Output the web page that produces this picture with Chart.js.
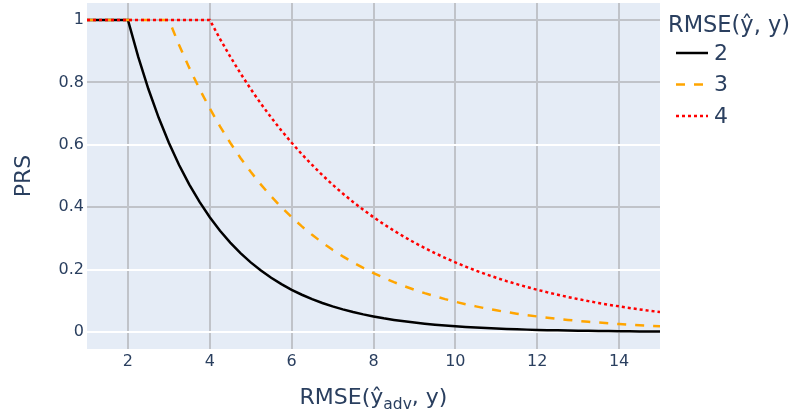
<!DOCTYPE html>
<html>
<head>
<meta charset="utf-8">
<script src="https://cdn.jsdelivr.net/npm/chart.js@4.4.1/dist/chart.umd.min.js"></script>
<style>
  html, body { margin: 0; padding: 0; background: #fff; }
  #wrap { width: 805px; height: 412px; position: relative; }
</style>
</head>
<body>
<div id="wrap"><canvas id="prsChart"></canvas></div>
<script>
// x values (RMSE of adversarial prediction)
const xValues = [1, 1.25, 1.5, 1.75, 2, 2.25, 2.5, 2.75, 3, 3.25, 3.5, 3.75, 4, 4.25, 4.5, 4.75,
  5, 5.25, 5.5, 5.75, 6, 6.25, 6.5, 6.75, 7, 7.25, 7.5, 7.75, 8, 8.25, 8.5, 8.75,
  9, 9.25, 9.5, 9.75, 10, 10.25, 10.5, 10.75, 11, 11.25, 11.5, 11.75, 12, 12.25, 12.5, 12.75,
  13, 13.25, 13.5, 13.75, 14, 14.25, 14.5, 14.75, 15];

// PRS per RMSE(ŷ, y) level
const prs2 = [1, 1, 1, 1, 1, 0.8825, 0.7788, 0.6873, 0.6065, 0.5353, 0.4724, 0.4169, 0.3679, 0.3247, 0.2865, 0.2528,
  0.2231, 0.1969, 0.1738, 0.1534, 0.1353, 0.1194, 0.1054, 0.0930, 0.0821, 0.0724, 0.0639, 0.0564, 0.0498, 0.0439, 0.0388, 0.0342,
  0.0302, 0.0266, 0.0235, 0.0207, 0.0183, 0.0161, 0.0143, 0.0126, 0.0111, 0.0098, 0.0087, 0.0076, 0.0067, 0.0059, 0.0052, 0.0046,
  0.0041, 0.0036, 0.0032, 0.0028, 0.0025, 0.0022, 0.0019, 0.0017, 0.0015];
const prs3 = [1, 1, 1, 1, 1, 1, 1, 1, 1, 0.9200, 0.8465, 0.7788, 0.7165, 0.6592, 0.6065, 0.5580,
  0.5134, 0.4724, 0.4346, 0.3998, 0.3679, 0.3385, 0.3114, 0.2865, 0.2636, 0.2425, 0.2231, 0.2053, 0.1889, 0.1738, 0.1599, 0.1471,
  0.1353, 0.1245, 0.1146, 0.1054, 0.0970, 0.0892, 0.0821, 0.0755, 0.0695, 0.0639, 0.0588, 0.0541, 0.0498, 0.0458, 0.0421, 0.0388,
  0.0357, 0.0328, 0.0302, 0.0278, 0.0256, 0.0235, 0.0216, 0.0199, 0.0183];
const prs4 = [1, 1, 1, 1, 1, 1, 1, 1, 1, 1, 1, 1, 1, 0.9394, 0.8825, 0.8290,
  0.7788, 0.7316, 0.6873, 0.6456, 0.6065, 0.5698, 0.5353, 0.5028, 0.4724, 0.4437, 0.4169, 0.3916, 0.3679, 0.3456, 0.3247, 0.3050,
  0.2865, 0.2691, 0.2528, 0.2375, 0.2231, 0.2096, 0.1969, 0.1850, 0.1738, 0.1632, 0.1534, 0.1441, 0.1353, 0.1271, 0.1194, 0.1122,
  0.1054, 0.0990, 0.0930, 0.0874, 0.0821, 0.0771, 0.0724, 0.0680, 0.0639];

const seriesLabels = ["2", "3", "4"];
const xTicks = [2, 4, 6, 8, 10, 12, 14];
const yTicks = [0, 0.2, 0.4, 0.6, 0.8, 1];

const FONT = "'DejaVu Sans', Verdana, sans-serif";
const TEXT = "#2a3f5f";
const GRID_GREY = "rgb(192,195,201)";
const WHITE_Y = [0, 0.2, 0.6];

function toPoints(ys) {
  return xValues.map((x, i) => ({ x: x, y: ys[i] }));
}

// plot background, axis titles and the legend
const decorations = {
  id: "decorations",
  beforeDraw(chart) {
    const { ctx, chartArea: a } = chart;
    ctx.save();
    ctx.fillStyle = "#e5ecf6";
    ctx.fillRect(a.left, a.top, a.right - a.left, a.bottom - a.top);
    ctx.restore();
  },
  afterDraw(chart) {
    const { ctx, chartArea: a } = chart;
    ctx.save();
    ctx.fillStyle = TEXT;

    // y title
    ctx.font = "22px " + FONT;
    ctx.textAlign = "center";
    ctx.textBaseline = "alphabetic";
    ctx.translate(30, (a.top + a.bottom) / 2);
    ctx.rotate(-Math.PI / 2);
    ctx.fillText("PRS", 0, 0);
    ctx.setTransform(1, 0, 0, 1, 0, 0);

    // x title with subscript
    const big = "22px " + FONT, small = "15.5px " + FONT;
    const p1 = "RMSE(ŷ", p2 = "adv", p3 = ", y)";
    ctx.font = big;
    const w1 = ctx.measureText(p1).width, w3 = ctx.measureText(p3).width;
    ctx.font = small;
    const w2 = ctx.measureText(p2).width;
    let x = (a.left + a.right) / 2 - (w1 + w2 + w3) / 2;
    const base = 404;
    ctx.textAlign = "left";
    ctx.font = big;
    ctx.fillText(p1, x, base);
    x += w1;
    ctx.font = small;
    ctx.fillText(p2, x, base + 5);
    x += w2;
    ctx.font = big;
    ctx.fillText(p3, x, base);

    // legend
    ctx.font = "22.5px " + FONT;
    ctx.fillText("RMSE(ŷ, y)", 668, 32);
    ctx.font = "22px " + FONT;
    ctx.textBaseline = "middle";
    chart.data.datasets.forEach((ds, i) => {
      const y = 53 + i * 31.5;
      ctx.save();
      ctx.strokeStyle = ds.borderColor;
      ctx.lineWidth = ds.borderWidth;
      ctx.setLineDash(ds.borderDash || []);
      ctx.beginPath();
      ctx.moveTo(676, y);
      ctx.lineTo(708, y);
      ctx.stroke();
      ctx.restore();
      ctx.fillText(ds.label, 714, y + 1);
    });
    ctx.restore();
  }
};

new Chart(document.getElementById("prsChart"), {
  type: "line",
  data: {
    datasets: [
      { label: seriesLabels[0], data: toPoints(prs2), borderColor: "#000000", borderWidth: 2.5, order: 3 },
      { label: seriesLabels[1], data: toPoints(prs3), borderColor: "#FFA500", borderWidth: 2.5, borderDash: [9, 9], order: 2 },
      { label: seriesLabels[2], data: toPoints(prs4), borderColor: "#FF0000", borderWidth: 2.5, borderDash: [3, 3], order: 1 }
    ]
  },
  options: {
    responsive: true,
    maintainAspectRatio: false,
    animation: false,
    layout: { padding: { left: 0, right: 145, top: 3, bottom: 0 } },
    elements: { point: { radius: 0 }, line: { tension: 0, fill: false } },
    plugins: { legend: { display: false }, tooltip: { enabled: false } },
    scales: {
      x: {
        type: "linear",
        min: 1,
        max: 15,
        afterBuildTicks: s => { s.ticks = xTicks.map(v => ({ value: v })); },
        afterFit: s => { s.height = 63; s.paddingLeft = 0; s.paddingRight = 0; },
        border: { display: false },
        grid: { color: GRID_GREY, lineWidth: 2, drawTicks: false },
        ticks: { padding: 3, color: TEXT, font: { family: FONT, size: 16 }, maxRotation: 0 }
      },
      y: {
        type: "linear",
        min: -0.0545,
        max: 1.0545,
        afterBuildTicks: s => { s.ticks = yTicks.map(v => ({ value: v })); },
        afterFit: s => { s.width = 87; s.paddingTop = 0; s.paddingBottom = 0; },
        border: { display: false },
        grid: {
          color: c => (c.tick && WHITE_Y.includes(c.tick.value) ? "#ffffff" : GRID_GREY),
          lineWidth: 2,
          drawTicks: false
        },
        ticks: {
          padding: 3,
          color: TEXT,
          font: { family: FONT, size: 16 },
          callback: v => String(Math.round(v * 10) / 10)
        }
      }
    }
  },
  plugins: [decorations]
});
</script>
</body>
</html>
